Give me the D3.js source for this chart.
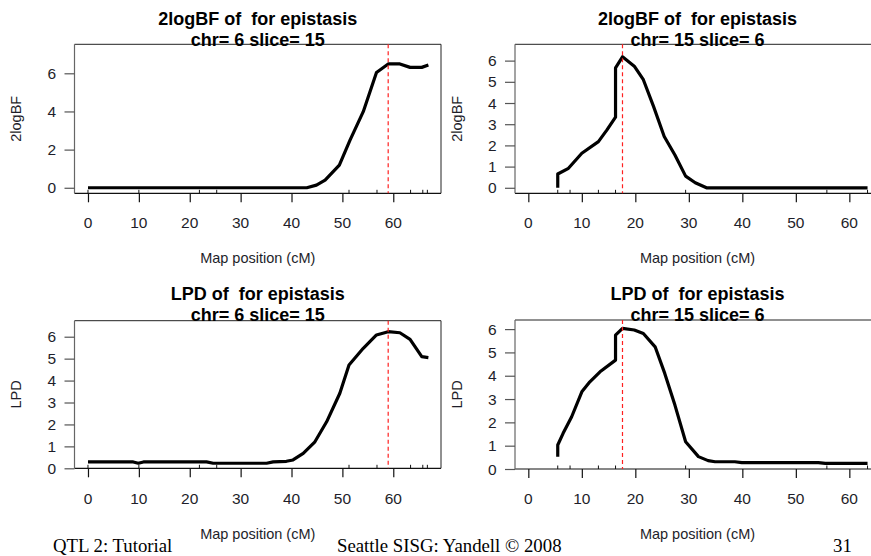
<!DOCTYPE html>
<html>
<head>
<meta charset="utf-8">
<script src="https://cdn.jsdelivr.net/npm/d3@7"></script>
<style>
  html, body { margin: 0; padding: 0; background: #fff; }
  svg { display: block; }
  text { white-space: pre; }
</style>
</head>
<body>
<svg id="chart" width="871" height="556"></svg>
<script>
// ---------------- data ----------------
const xTickValues = [0, 10, 20, 30, 40, 50, 60];
const yTicksBF6 = [0, 2, 4, 6];
const yTicksBF15 = [0, 1, 2, 3, 4, 5, 6];
const yTicksLPD = [0, 1, 2, 3, 4, 5, 6];

// chr 6 (slice 15), 2logBF
const bf6Pos  = [0, 43.0, 44.9, 46.6, 49.4, 51.5, 54.1, 56.7, 59.0, 61.3, 63.3, 65.6, 66.9];
const bf6Vals = [0, 0,    0.14, 0.40, 1.19, 2.50, 3.99, 6.04, 6.49, 6.49, 6.31, 6.31, 6.43];

// chr 15 (slice 6), 2logBF
const bf15Pos  = [5.5, 5.5,  7.5,  10.0, 13.1, 14.7, 16.3, 16.3, 17.6, 19.8, 21.5, 23.4, 25.4, 27.4, 29.4, 31.2, 33.3, 63.4];
const bf15Vals = [0,   0.65, 0.92, 1.63, 2.18, 2.73, 3.33, 5.66, 6.18, 5.74, 5.10, 3.84, 2.42, 1.55, 0.55, 0.24, 0,    0];

// chr 6 (slice 15), LPD
const lpd6Pos  = [0,    8.9,  9.9,  10.9, 23.3, 24.6, 35.1, 36.4, 39.0, 40.3, 42.3, 44.6, 46.9, 49.5, 51.3, 54.1, 56.7, 59.0, 61.3, 63.3, 65.6, 66.9];
const lpd6Vals = [0.29, 0.29, 0.23, 0.29, 0.29, 0.23, 0.23, 0.29, 0.32, 0.38, 0.68, 1.21, 2.12, 3.42, 4.71, 5.47, 6.08, 6.23, 6.18, 5.88, 5.09, 5.05];

// chr 15 (slice 6), LPD
const lpd15Pos  = [5.5,  5.5,  6.5,  8.1,  10.0, 11.5, 13.4, 16.3, 16.3, 17.6, 19.8, 21.5, 23.7, 25.5, 27.4, 29.4, 31.8, 33.6, 34.9, 38.6, 39.9, 54.2, 55.5, 63.4];
const lpd15Vals = [0.53, 1.03, 1.53, 2.24, 3.31, 3.74, 4.17, 4.67, 5.74, 6.03, 5.96, 5.81, 5.24, 4.10, 2.74, 1.17, 0.53, 0.36, 0.31, 0.31, 0.27, 0.27, 0.24, 0.24];

// marker positions (rug ticks)
const markers6  = [0, 10, 21.9, 25.3, 51.3, 56.8, 63.4, 65.8, 66.7];
const markers15 = [5.5, 7.8, 13.1, 16.3, 29.4, 55.8, 63.4];

// peak positions (red dashed line)
const peak6 = 59.0;
const peak15 = 17.6;

const titles1 = ["2logBF of  for epistasis", "2logBF of  for epistasis", "LPD of  for epistasis", "LPD of  for epistasis"];
const titles2 = ["chr= 6 slice= 15", "chr= 15 slice= 6", "chr= 6 slice= 15", "chr= 15 slice= 6"];
const yTitles = ["2logBF", "2logBF", "LPD", "LPD"];
const xTitle = "Map position (cM)";
const footerLeft = "QTL 2: Tutorial";
const footerMid = "Seattle SISG: Yandell \u00A9 2008";
const footerRight = "31";

// ---------------- layout ----------------
const panels = [
  { x: bf6Pos,   y: bf6Vals,   marks: markers6,  peak: peak6,  yTicks: yTicksBF6,
    left: 74.5, right: 441, top: 44.3, bottom: 193.3, xDom: [-2.65, 69.38], yDom: [-0.29, 7.52], row: 0 },
  { x: bf15Pos,  y: bf15Vals,  marks: markers15, peak: peak15, yTicks: yTicksBF15,
    left: 515, right: 880, top: 44.3, bottom: 193.3, xDom: [-2.49, 65.73], yDom: [-0.26, 6.77], row: 0 },
  { x: lpd6Pos,  y: lpd6Vals,  marks: markers6,  peak: peak6,  yTicks: yTicksLPD,
    left: 74.5, right: 441, top: 320.7, bottom: 468.3, xDom: [-2.65, 69.38], yDom: [0, 6.73], row: 1 },
  { x: lpd15Pos, y: lpd15Vals, marks: markers15, peak: peak15, yTicks: yTicksLPD,
    left: 515, right: 880, top: 320, bottom: 469, xDom: [-2.49, 65.73], yDom: [0, 6.39], row: 1 }
];
const rowText = [
  { t1: 25, t2: 46, xlab: 227.7, xtitle: 263 },
  { t1: 300, t2: 321, xlab: 503.7, xtitle: 538.5 }
];

const SANS = "'Liberation Sans', Arial, Helvetica, sans-serif";
const SERIF = "'Liberation Serif', 'Times New Roman', Times, serif";

const svg = d3.select("#chart");

svg.append("defs").selectAll("clipPath").data(panels).join("clipPath")
  .attr("id", (d, i) => "clip" + i)
  .append("rect")
  .attr("x", d => d.left).attr("y", d => d.top)
  .attr("width", d => d.right - d.left).attr("height", d => d.bottom - d.top);

panels.forEach((p, i) => {
  const xs = d3.scaleLinear().domain(p.xDom).range([p.left, p.right]);
  const ys = d3.scaleLinear().domain(p.yDom).range([p.bottom, p.top]);
  const g = svg.append("g");
  const rt = rowText[p.row];

  // box: top, right (black)
  g.append("line").attr("x1", p.left).attr("x2", p.right).attr("y1", p.top).attr("y2", p.top)
    .attr("stroke", "#222").attr("stroke-width", 1);
  g.append("line").attr("x1", p.right).attr("x2", p.right).attr("y1", p.top).attr("y2", p.bottom)
    .attr("stroke", "#222").attr("stroke-width", 1);

  // x axis (bottom) with downward ticks
  const xAxis = d3.axisBottom(xs).tickValues(xTickValues).tickSize(9).tickSizeOuter(0).tickFormat(d3.format("d"));
  const xg = g.append("g").attr("transform", `translate(0,${p.bottom})`).call(xAxis);
  xg.select(".domain").attr("d", `M${p.left},0H${p.right}`).attr("stroke", "#111").attr("stroke-width", 1.2);
  xg.selectAll(".tick line").attr("stroke", "#111").attr("stroke-width", 1.2);
  xg.selectAll(".tick text").remove();
  g.selectAll(".xlab").data(xTickValues).join("text")
    .attr("x", d => xs(d)).attr("y", rt.xlab)
    .attr("text-anchor", "middle").attr("font-family", SANS).attr("font-size", 15.5)
    .attr("fill", "#1e1e2a").text(d => d);

  // y axis (left) with ticks
  const yAxis = d3.axisLeft(ys).tickValues(p.yTicks).tickSize(10).tickSizeOuter(0);
  const yg = g.append("g").attr("transform", `translate(${p.left},0)`).call(yAxis);
  yg.select(".domain").attr("d", `M0,${p.top}V${p.bottom}`).attr("stroke", "#666").attr("stroke-width", 1.2);
  yg.selectAll(".tick line").attr("stroke", "#555").attr("stroke-width", 1.2);
  yg.selectAll(".tick text").remove();
  g.selectAll(".ylab").data(p.yTicks).join("text")
    .attr("x", p.left - 18.5).attr("y", d => ys(d) + 5.5)
    .attr("text-anchor", "end").attr("font-family", SANS).attr("font-size", 15.5)
    .attr("fill", "#1e1e2a").text(d => d);

  // rug ticks (markers)
  g.selectAll(".rug").data(p.marks).join("line")
    .attr("x1", d => xs(d)).attr("x2", d => xs(d))
    .attr("y1", p.bottom).attr("y2", p.bottom - 3.5)
    .attr("stroke", "#111").attr("stroke-width", 1);

  // curve
  const pts = p.x.map((v, k) => [v, p.y[k]]);
  g.append("path").datum(pts)
    .attr("clip-path", `url(#clip${i})`)
    .attr("d", d3.line().x(d => xs(d[0])).y(d => ys(d[1])))
    .attr("fill", "none").attr("stroke", "#000").attr("stroke-width", 3.2)
    .attr("stroke-linejoin", "round").attr("stroke-linecap", "butt");

  // peak line
  g.append("line").attr("x1", xs(p.peak)).attr("x2", xs(p.peak))
    .attr("y1", p.top).attr("y2", p.bottom)
    .attr("stroke", "#ff2020").attr("stroke-width", 1.2).attr("stroke-dasharray", "4,3");

  // titles
  const titleX = (i % 2 === 0) ? (p.left + p.right) / 2 : 697.5;
  g.append("text").attr("x", titleX).attr("y", rt.t1).attr("text-anchor", "middle")
    .attr("font-family", SANS).attr("font-weight", "bold").attr("font-size", 18)
    .attr("fill", "#000").text(titles1[i]);
  g.append("text").attr("x", titleX).attr("y", rt.t2).attr("text-anchor", "middle")
    .attr("font-family", SANS).attr("font-weight", "bold").attr("font-size", 18)
    .attr("fill", "#000").text(titles2[i]);

  // axis titles
  g.append("text").attr("x", titleX).attr("y", rt.xtitle).attr("text-anchor", "middle")
    .attr("font-family", SANS).attr("font-size", 14.5).attr("fill", "#1e1e2a").text(xTitle);
  const yx = (i % 2 === 0) ? 21 : 461.7;
  const yc = (p.top + p.bottom) / 2;
  g.append("text").attr("transform", `translate(${yx},${yc}) rotate(-90)`)
    .attr("text-anchor", "middle")
    .attr("font-family", SANS).attr("font-size", 14.5).attr("fill", "#1e1e2a").text(yTitles[i]);
});

// footer
svg.append("text").attr("x", 53).attr("y", 551.5).attr("font-family", SERIF).attr("font-size", 18.8)
  .attr("fill", "#000").text(footerLeft);
svg.append("text").attr("x", 337).attr("y", 551.5).attr("font-family", SERIF).attr("font-size", 18.8)
  .attr("fill", "#000").text(footerMid);
svg.append("text").attr("x", 833).attr("y", 551.5).attr("font-family", SERIF).attr("font-size", 18.8)
  .attr("fill", "#000").text(footerRight);
</script>
</body>
</html>
